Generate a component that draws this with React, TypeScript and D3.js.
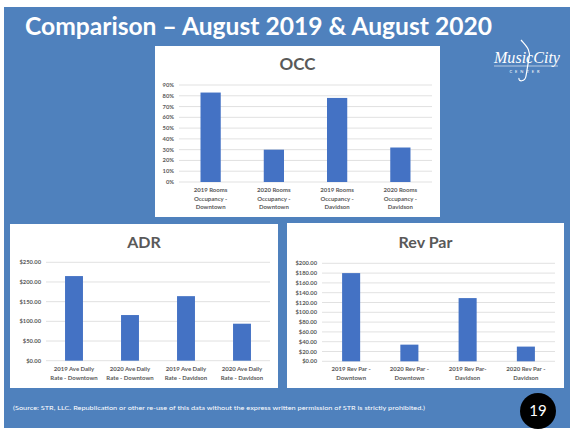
import React from "react";
import * as d3 from "d3";

// chart data
const occCategories = [
  ["2019 Rooms", "Occupancy -", "Downtown"],
  ["2020 Rooms", "Occupancy -", "Downtown"],
  ["2019 Rooms", "Occupancy -", "Davidson"],
  ["2020 Rooms", "Occupancy -", "Davidson"],
];
const occValues = [0.83, 0.3, 0.78, 0.32];
const occTicks = [0, 0.1, 0.2, 0.3, 0.4, 0.5, 0.6, 0.7, 0.8, 0.9];

const adrCategories = [
  ["2019 Ave Daily", "Rate - Downtown"],
  ["2020 Ave Daily", "Rate - Downtown"],
  ["2019 Ave Daily", "Rate - Davidson"],
  ["2020 Ave Daily", "Rate - Davidson"],
];
const adrValues = [215, 116, 164, 94];
const adrTicks = [0, 50, 100, 150, 200, 250];

const revParCategories = [
  ["2019 Rev Par -", "Downtown"],
  ["2020 Rev Par -", "Downtown"],
  ["2019 Rev Par-", "Davidson"],
  ["2020 Rev Par -", "Davidson"],
];
const revParValues = [180, 34, 129, 30];
const revParTicks = [0, 20, 40, 60, 80, 100, 120, 140, 160, 180, 200];

const FONT = "Lato, 'Open Sans', sans-serif";
const BLUE_BG = "#4F81BD";
const BAR = "#4472C4";
const GREY = "#595959";

function Panel(props) {
  const { box, title, titleSize, titleY, plot, categories, values, ticks, fmt, barRatio, labelY, lineGap } = props;
  const names = categories.map((c) => c.join(" "));
  const x = d3.scaleBand().domain(names).range([plot.left, plot.right]).padding(0);
  const y = d3.scaleLinear().domain([0, ticks[ticks.length - 1]]).range([plot.bottom, plot.top]);
  const bw = x.step() * barRatio;
  return (
    <g>
      <rect x={box.x} y={box.y} width={box.w} height={box.h} fill="#fff" />
      <text x={box.x + box.w / 2} y={titleY} textAnchor="middle" fontSize={titleSize} fontWeight="bold" fill={GREY} fontFamily={FONT}>
        {title}
      </text>
      {ticks.map((t) => (
        <g key={t}>
          <line x1={plot.left} x2={plot.right} y1={y(t)} y2={y(t)} stroke="#D9D9D9" strokeWidth={0.8} />
          <text x={plot.left - 5} y={y(t)} dy="0.35em" textAnchor="end" fontSize={5.8} fontWeight="bold" fill={GREY} fontFamily={FONT}>
            {fmt(t)}
          </text>
        </g>
      ))}
      {values.map((v, i) => (
        <rect key={i} x={x(names[i]) + (x.step() - bw) / 2} y={y(v)} width={bw} height={y(0) - y(v)} fill={BAR} />
      ))}
      {categories.map((lines, i) => (
        <text key={i} textAnchor="middle" fontSize={6} fontWeight="bold" fill={GREY} fontFamily={FONT}>
          {lines.map((l, j) => (
            <tspan key={j} x={x(names[i]) + x.step() / 2} y={labelY + j * lineGap}>
              {l}
            </tspan>
          ))}
        </text>
      ))}
    </g>
  );
}

export default function App() {
  const pct = d3.format(".0%");
  const money = (v) => "$" + d3.format(".2f")(v);
  return (
    <div style={{ position: "absolute", left: 0, top: 0 }}>
      <svg width={570} height={430} style={{ display: "block" }}>
        <rect width={570} height={430} fill="#fff" />
        <rect x={4} y={7} width={566} height={421} fill={BLUE_BG} />
        <text x={25} y={35} fontSize={25} fontWeight="bold" fill="#fff" fontFamily={FONT} textLength={467} lengthAdjust="spacingAndGlyphs">
          Comparison – August 2019 &amp; August 2020
        </text>

        {/* logo */}
        <g fill="#fff" stroke="none">
          <text x={494} y={63} fontSize={17} fontStyle="italic" fontFamily="'Liberation Serif', serif" textLength={66} lengthAdjust="spacingAndGlyphs">
            MusicCity
          </text>
          <line x1={494} x2={558} y1={66} y2={66} stroke="#fff" strokeWidth={0.6} />
          <text x={526} y={73} fontSize={4} textAnchor="middle" fontFamily={FONT} letterSpacing={3}>
            CENTER
          </text>
          <path d="M521,40 C526,46 531,50 529,58 L526,76 C525,82 518,82 519,78" fill="none" stroke="#fff" strokeWidth={1.2} />
        </g>

        <Panel
          box={{ x: 155, y: 46, w: 285, h: 171 }}
          title="OCC"
          titleSize={17}
          titleY={69.5}
          plot={{ left: 179, right: 432, top: 85, bottom: 182 }}
          categories={occCategories}
          values={occValues}
          ticks={occTicks}
          fmt={pct}
          barRatio={0.32}
          labelY={192}
          lineGap={8.6}
        />
        <Panel
          box={{ x: 10, y: 224, w: 268, h: 164 }}
          title="ADR"
          titleSize={16}
          titleY={248}
          plot={{ left: 46, right: 270, top: 262.3, bottom: 360.7 }}
          categories={adrCategories}
          values={adrValues}
          ticks={adrTicks}
          fmt={money}
          barRatio={0.32}
          labelY={371}
          lineGap={8.5}
        />
        <Panel
          box={{ x: 287, y: 223, w: 277, h: 165 }}
          title="Rev Par"
          titleSize={16}
          titleY={248}
          plot={{ left: 322, right: 555, top: 263.3, bottom: 361.3 }}
          categories={revParCategories}
          values={revParValues}
          ticks={revParTicks}
          fmt={money}
          barRatio={0.31}
          labelY={371}
          lineGap={8.5}
        />

        <text x={13} y={410} fontSize={6.5} fill="#fff" fontFamily={FONT} textLength={412} lengthAdjust="spacingAndGlyphs">
          (Source: STR, LLC. Republication or other re-use of this data without the express written permission of STR is strictly prohibited.)
        </text>
        <circle cx={538} cy={411} r={18} fill="#000" />
        <text x={538} y={411} dy="0.36em" textAnchor="middle" fontSize={15} fill="#fff" fontFamily={FONT}>
          19
        </text>
      </svg>
    </div>
  );
}
